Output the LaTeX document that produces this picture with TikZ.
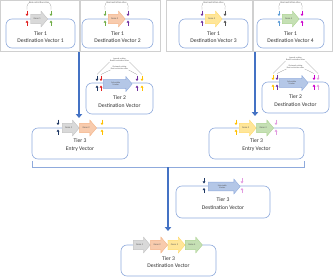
\documentclass[tikz,border=0pt]{standalone}
\usepackage{fontspec}
\setmainfont{Carlito}
\usepackage{xcolor}
\definecolor{boxblue}{HTML}{8FAADC}
\definecolor{flowblue}{HTML}{4472C4}
\definecolor{framegray}{HTML}{D0D0D0}
\definecolor{leadergray}{HTML}{8C8C8C}
\definecolor{textgray}{HTML}{303030}
\definecolor{genetext}{HTML}{595959}
\definecolor{grayfill}{HTML}{D9D9D9}
\definecolor{grayline}{HTML}{BFBFBF}
\definecolor{orangefill}{HTML}{F8CBAD}
\definecolor{orangeline}{HTML}{F4B183}
\definecolor{yellowfill}{HTML}{FFE699}
\definecolor{yellowline}{HTML}{FFD966}
\definecolor{greenfill}{HTML}{C5E0B4}
\definecolor{greenline}{HTML}{A9D18E}
\definecolor{markerfill}{HTML}{B4C7E7}
\definecolor{markerline}{HTML}{8FAADC}
\definecolor{sitered}{HTML}{E02020}
\definecolor{sitegreen}{HTML}{70AD47}
\definecolor{sitepurple}{HTML}{7030A0}
\definecolor{sitegray}{HTML}{505050}
\definecolor{sitesky}{HTML}{5B9BD5}
\definecolor{sitemagenta}{HTML}{CC00CC}
\definecolor{sitenavy}{HTML}{1F3864}
\definecolor{siteyellow}{HTML}{FFC000}
\definecolor{sitepink}{HTML}{E29CE0}
\usetikzlibrary{arrows.meta}
\usetikzlibrary{shapes.arrows}
\tikzset{
  tierbox/.style={draw=boxblue, line width=0.9pt, rounded corners=0.3cm},
  tiertext/.style={align=center, font=\fontsize{8}{10.5}\selectfont, text=textgray},
  gene/.style={single arrow, fill=#1fill, draw=#1line, line width=0.5pt,
    minimum height=0.85cm, minimum width=0.8cm, single arrow head extend=0.15cm,
    single arrow tip angle=100, inner xsep=0.5pt, inner ysep=5pt,
    font=\fontsize{3.5}{4}\selectfont, text=genetext},
  marker/.style={single arrow, fill=markerfill, draw=markerline, line width=0.5pt,
    minimum height=1.45cm, minimum width=0.75cm, single arrow head extend=0.15cm,
    single arrow tip angle=100, inner xsep=0.5pt, inner ysep=3pt, align=center,
    font=\fontsize{3}{3.4}\selectfont, text=genetext},
  site/.style={-{Triangle[length=3pt,width=4pt]}, line width=0.7pt},
  flow/.style={draw=flowblue, line width=2.6pt, -{Triangle[length=0.2cm,width=0.32cm]}},
  leader/.style={draw=leadergray, line width=0.3pt},
  sitelabel/.style={font=\fontsize{3.5}{4}\selectfont, text=genetext, inner sep=0.5pt},
  cutlabel/.style={font=\fontsize{3}{3.4}\selectfont, text=genetext, align=center, inner sep=0.5pt},
  bracket/.style={draw=boxblue, line width=0.9pt}
}
\begin{document}
\begin{tikzpicture}[x=0.05cm, y=-0.05cm]
  \useasboundingbox (0,0) rectangle (333,277);

  % tier 1 panels
  \draw[framegray, line width=0.5pt] (0.5,0.5) rectangle (79.5,51) (80,0.5) rectangle (160,51);
  \draw[framegray, line width=0.5pt] (166,0.5) rectangle (252.5,51) (253,0.5) rectangle (332.5,51);

  \node[tierbox, minimum width=3.45cm, minimum height=1.45cm] (dv1) at (40.5,33.5) {};
  \node[tierbox, minimum width=3.55cm, minimum height=1.45cm] (dv2) at (117.5,33.5) {};
  \node[tierbox, minimum width=3.45cm, minimum height=1.45cm] (dv3) at (213.5,33.5) {};
  \node[tierbox, minimum width=3.35cm, minimum height=1.45cm] (dv4) at (290.5,33.5) {};
  \node[tiertext] (dv1text) at (40.5,37) {Tier 1\\Destination Vector 1};
  \node[tiertext] (dv2text) at (117.5,37) {Tier 1\\Destination Vector 2};
  \node[tiertext] (dv3text) at (213.5,37) {Tier 1\\Destination Vector 3};
  \node[tiertext] (dv4text) at (290.5,37) {Tier 1\\Destination Vector 4};

  \node[gene=gray, anchor=tail] (gene1) at (30.5,19) {Gene 1};
  \node[gene=orange, anchor=tail] (gene2) at (108,19) {Gene 2};
  \node[gene=yellow, anchor=tail] (gene3) at (205,19) {Gene 3};
  \node[gene=green, anchor=tail] (gene4) at (282,19) {Gene 4};

  \draw[site, sitered] (27,10.5) -- (27,16);
  \draw[site, sitered] (27,25.5) -- (27,20.5);
  \draw[site, sitegreen] (51,10.5) -- (51,16);
  \draw[site, sitegreen] (51,25.5) -- (51,20.5);
  \draw[site, sitegreen] (105,10.5) -- (105,16);
  \draw[site, sitegreen] (105,25.5) -- (105,20.5);
  \draw[site, sitepurple] (128,10.5) -- (128,16);
  \draw[site, sitepurple] (128,25.5) -- (128,20.5);
  \draw[site, sitepurple] (202,10.5) -- (202,16);
  \draw[site, sitepurple] (202,25.5) -- (202,20.5);
  \draw[site, sitegray] (225,10.5) -- (225,16);
  \draw[site, sitegray] (225,25.5) -- (225,20.5);
  \draw[site, sitesky] (279,10.5) -- (279,16);
  \draw[site, sitesky] (279,25.5) -- (279,20.5);
  \draw[site, sitemagenta] (302,10.5) -- (302,16);
  \draw[site, sitemagenta] (302,25.5) -- (302,20.5);

  \node[sitelabel] (bsa1) at (39,2.8) {BsaI restriction sites};
  \node[sitelabel] (bsa2) at (116.5,2.8) {BsaI restriction sites};
  \node[sitelabel] (bsa3) at (213.5,2.8) {BsaI restriction sites};
  \node[sitelabel] (bsa4) at (290.5,2.8) {BsaI restriction sites};
  \draw[leader] (bsa1.west) to[bend right=20] (27,9.5) (bsa1.east) to[bend left=20] (51,9.5);
  \draw[leader] (bsa2.west) to[bend right=20] (105,9.5) (bsa2.east) to[bend left=20] (128,9.5);
  \draw[leader] (bsa3.west) to[bend right=20] (202,9.5) (bsa3.east) to[bend left=20] (225,9.5);
  \draw[leader] (bsa4.west) to[bend right=20] (279,9.5) (bsa4.east) to[bend left=20] (302,9.5);

  % tier 2 destination vectors
  \node[tierbox, minimum width=3.35cm, minimum height=1.55cm] (t2left) at (119.5,98.5) {};
  \node[tierbox, minimum width=3.35cm, minimum height=1.55cm] (t2right) at (295.5,97.5) {};
  \node[tiertext] (t2lefttext) at (119.5,101.5) {Tier 2\\Destination Vector};
  \node[tiertext] (t2righttext) at (295.5,100.5) {Tier 2\\Destination Vector};
  \node[marker, anchor=tail] (markL) at (103,84) {Selectable\\Marker};
  \node[marker, anchor=tail] (markR) at (279,83) {Selectable\\Marker};

  \draw[site, sitenavy] (97,75.5) -- (97,81);
  \draw[site, sitenavy] (97,90.5) -- (97,85.5);
  \draw[site, sitered] (101,75.5) -- (101,81);
  \draw[site, sitered] (101,90.5) -- (101,85.5);
  \draw[site, sitepurple] (137,75.5) -- (137,81);
  \draw[site, sitepurple] (137,90.5) -- (137,85.5);
  \draw[site, siteyellow] (142,75.5) -- (142,81);
  \draw[site, siteyellow] (142,90.5) -- (142,85.5);
  \draw[site, siteyellow] (273,74.5) -- (273,80);
  \draw[site, siteyellow] (273,89.5) -- (273,84.5);
  \draw[site, sitepurple] (277,74.5) -- (277,80);
  \draw[site, sitepurple] (277,89.5) -- (277,84.5);
  \draw[site, sitemagenta] (314,74.5) -- (314,80);
  \draw[site, sitemagenta] (314,89.5) -- (314,84.5);
  \draw[site, sitepink] (318,74.5) -- (318,80);
  \draw[site, sitepink] (318,89.5) -- (318,84.5);

  \node[cutlabel] (inwardL) at (119.5,59.5) {Inward cutting\\BsmBI restriction sites};
  \node[cutlabel] (outwardL) at (119.5,67.5) {Outward cutting\\BsaI restriction sites};
  \node[cutlabel] (inwardR) at (295.5,58.5) {Inward cutting\\BsmBI restriction sites};
  \node[cutlabel] (outwardR) at (295.5,66.5) {Outward cutting\\BsaI restriction sites};
  \draw[leader] (inwardL.south west) -- (97,74.5) (inwardL.south east) -- (142,74.5);
  \draw[leader] (outwardL.south west) -- (101,74.5) (outwardL.south east) -- (137,74.5);
  \draw[leader] (inwardR.south west) -- (273,73.5) (inwardR.south east) -- (318,73.5);
  \draw[leader] (outwardR.south west) -- (277,73.5) (outwardR.south east) -- (314,73.5);

  % tier 3 entry vectors
  \node[tierbox, minimum width=4.8cm, minimum height=1.55cm] (entryL) at (80,143.5) {};
  \node[tierbox, minimum width=4.75cm, minimum height=1.55cm] (entryR) at (256.5,143.5) {};
  \node[tiertext] (entryLtext) at (80,145) {Tier 3\\Entry Vector};
  \node[tiertext] (entryRtext) at (256.5,145) {Tier 3\\Entry Vector};
  \node[gene=gray, anchor=tail] (e1) at (62,128) {Gene 1};
  \node[gene=orange, anchor=tail] (e2) at (e1.tip) {Gene 2};
  \node[gene=yellow, anchor=tail] (e3) at (239,128) {Gene 3};
  \node[gene=green, anchor=tail] (e4) at (e3.tip) {Gene 4};

  \draw[site, sitenavy] (58,119.5) -- (58,125);
  \draw[site, sitenavy] (58,134.5) -- (58,129.5);
  \draw[site, siteyellow] (102,119.5) -- (102,125);
  \draw[site, siteyellow] (102,134.5) -- (102,129.5);
  \draw[site, siteyellow] (236,119.5) -- (236,125);
  \draw[site, siteyellow] (236,134.5) -- (236,129.5);
  \draw[site, sitepink] (276,119.5) -- (276,125);
  \draw[site, sitepink] (276,134.5) -- (276,129.5);

  \coordinate (outL) at (79,52);
  \coordinate (inL) at (79,118);
  \coordinate (outR) at (255,52);
  \coordinate (inR) at (255,116);
  \draw[flow] (outL) -- (inL);
  \draw[flow] (outR) -- (inR);

  % joining bracket
  \coordinate (brL) at (32,161);
  \coordinate (brR) at (304,161);
  \coordinate (join) at (168,167);
  \coordinate (inF) at (168,231);
  \draw[bracket] (brL) -- (32,167) -- (304,167) -- (brR);
  \draw[flow] (join) -- (inF);

  % tier 3 destination vectors
  \node[tierbox, minimum width=4.7cm, minimum height=1.6cm] (dest3) at (223,202) {};
  \node[tiertext] (dest3text) at (223,203.5) {Tier 3\\Destination Vector};
  \node[marker, anchor=tail, minimum height=1.6cm] (markF) at (208,186.5) {Selectable\\Marker};
  \draw[site, sitenavy] (204,178) -- (204,183.5);
  \draw[site, sitenavy] (204,193) -- (204,188);
  \draw[site, sitepink] (242,178) -- (242,183.5);
  \draw[site, sitepink] (242,193) -- (242,188);

  \node[tierbox, minimum width=4.75cm, minimum height=1.55cm] (final) at (168.5,260.5) {};
  \node[tiertext] (finaltext) at (168.5,262) {Tier 3\\Destination Vector};
  \node[gene=gray, anchor=tail] (f1) at (133,245) {Gene 1};
  \node[gene=orange, anchor=tail] (f2) at (f1.tip) {Gene 2};
  \node[gene=yellow, anchor=tail] (f3) at (f2.tip) {Gene 3};
  \node[gene=green, anchor=tail] (f4) at (f3.tip) {Gene 4};
\end{tikzpicture}
\end{document}
